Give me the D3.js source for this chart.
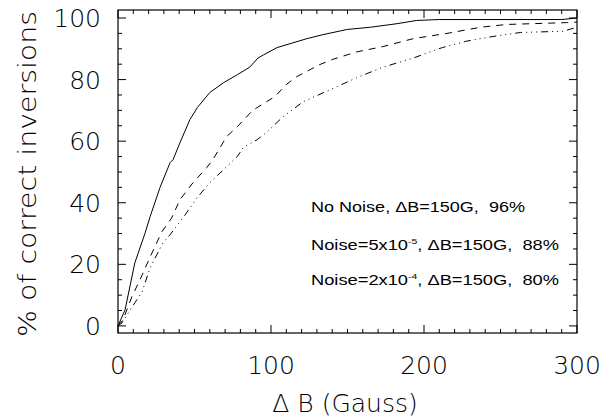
<!DOCTYPE html>
<html>
<head>
<meta charset="utf-8">
<script src="https://cdn.jsdelivr.net/npm/d3@7"></script>
<style>
  body { margin: 0; background: #fff; }
  svg { display: block; }
  .tick-label { font-family: "DejaVu Sans", sans-serif; font-weight: 200; fill: #000; }
  .legend { font-family: "Liberation Sans", Arial, sans-serif; font-size: 14px; fill: #000; white-space: pre; }
</style>
</head>
<body>
<svg width="604" height="419"></svg>
<script>
// cumulative % of correct inversions vs Delta B (Gauss)
var noNoiseX = [0, 4.6, 11, 17.6, 21, 27.5, 34, 36, 40.5, 47, 52, 60, 69, 78, 86, 91.5, 95, 104, 123.5, 134, 150, 165, 183, 195, 210, 290, 300];
var noNoiseY = [0, 5.2, 20.5, 30, 35.5, 45, 53, 54, 59.5, 67, 71, 75.8, 79, 81.6, 84, 87, 88, 90.4, 93.3, 94.6, 96.3, 97, 98.2, 99.2, 99.5, 99.5, 100];

var noise5X = [0, 3.3, 9, 14.4, 21, 28.7, 35, 40.5, 49, 58, 62, 71, 78, 88, 102.6, 110, 117, 132, 140, 156, 173, 183, 193, 215, 237, 254, 293, 300];
var noise5Y = [0, 2, 9.4, 15, 22.4, 30.6, 35, 41, 46.5, 51.4, 54, 61.5, 64.7, 70, 74.5, 78.4, 81, 84.9, 86.5, 89, 90.7, 92, 93.3, 95, 97, 97.9, 98.5, 98.7];

var noise2X = [0, 2.6, 11, 15.7, 21, 29.4, 34, 43.8, 51.6, 60, 78, 82, 91, 97, 108, 121, 138.6, 156, 173, 193, 212, 227, 245, 263, 291, 300];
var noise2Y = [0, 1, 7.5, 11, 18.9, 27, 29.6, 36, 41.6, 46.5, 55, 58, 60.5, 62.8, 68, 72.8, 76.7, 80.6, 84, 87, 90.4, 92.4, 94, 95.3, 95.7, 97];

var legendLabels = [
  [{t: "No Noise, \u0394B=150G,  96%"}],
  [{t: "Noise=5x10"}, {t: "-5", sup: true}, {t: ", \u0394B=150G,  88%"}],
  [{t: "Noise=2x10"}, {t: "-4", sup: true}, {t: ", \u0394B=150G,  80%"}]
];

var xMajor = [0, 100, 200, 300];
var yMajor = [0, 20, 40, 60, 80, 100];

var svg = d3.select("svg");
var pLeft = 118, pRight = 577, pTop = 10, pBottom = 333;

var x = d3.scaleLinear().domain([0, 300]).range([pLeft, pRight]);
var y = d3.scaleLinear().domain([-2.3, 102.6]).range([pBottom, pTop]);

// frame
svg.append("rect")
  .attr("x", pLeft).attr("y", pTop)
  .attr("width", pRight - pLeft).attr("height", pBottom - pTop)
  .attr("fill", "none").attr("stroke", "#000").attr("stroke-width", 1.2);

// ticks on all four sides
var tickG = svg.append("g").attr("stroke", "#000").attr("stroke-width", 1);
d3.range(0, 301, 10).forEach(function (v) {
  var len = (v % 100 === 0) ? 8 : 4;
  tickG.append("line").attr("x1", x(v)).attr("x2", x(v)).attr("y1", pBottom).attr("y2", pBottom - len);
  tickG.append("line").attr("x1", x(v)).attr("x2", x(v)).attr("y1", pTop).attr("y2", pTop + len);
});
d3.range(0, 101, 5).forEach(function (v) {
  var len = (v % 20 === 0) ? 8 : 4;
  tickG.append("line").attr("y1", y(v)).attr("y2", y(v)).attr("x1", pLeft).attr("x2", pLeft + len);
  tickG.append("line").attr("y1", y(v)).attr("y2", y(v)).attr("x1", pRight).attr("x2", pRight - len);
});

// tick labels
svg.selectAll(".xl").data(xMajor).join("text")
  .attr("class", "tick-label")
  .attr("x", function (d) { return x(d); })
  .attr("y", 374)
  .attr("text-anchor", "middle")
  .attr("font-size", 25)
  .text(function (d) { return d; });

svg.selectAll(".yl").data(yMajor).join("text")
  .attr("class", "tick-label")
  .attr("x", 101)
  .attr("y", function (d) { return y(d) + 9; })
  .attr("text-anchor", "end")
  .attr("font-size", 25)
  .text(function (d) { return d; });

// axis titles
svg.append("text")
  .attr("class", "tick-label")
  .attr("x", 345).attr("y", 412)
  .attr("text-anchor", "middle")
  .attr("font-size", 25)
  .text("\u0394 B (Gauss)");

svg.append("text")
  .attr("class", "tick-label")
  .attr("transform", "translate(36,174) rotate(-90)")
  .attr("text-anchor", "middle")
  .attr("font-size", 25)
  .attr("textLength", 326)
  .attr("lengthAdjust", "spacingAndGlyphs")
  .text("% of correct inversions");

// curves
var line = d3.line()
  .x(function (d) { return x(d[0]); })
  .y(function (d) { return y(d[1]); });

var series = [
  {xs: noNoiseX, ys: noNoiseY, dash: null},
  {xs: noise5X, ys: noise5Y, dash: "7,6"},
  {xs: noise2X, ys: noise2Y, dash: "7,4,1,4,1,4,1,4"}
];

series.forEach(function (s) {
  var pts = s.xs.map(function (v, i) { return [v, s.ys[i]]; });
  svg.append("path")
    .datum(pts)
    .attr("d", line)
    .attr("fill", "none")
    .attr("stroke", "#000")
    .attr("stroke-width", 1)
    .attr("stroke-dasharray", s.dash);
});

// legend text
var legendY = [212, 250, 285];
var legendW = [214, 248, 248];
legendLabels.forEach(function (parts, i) {
  var t = svg.append("text").attr("class", "legend")
    .attr("x", 311).attr("y", legendY[i])
    .attr("textLength", legendW[i])
    .attr("lengthAdjust", "spacingAndGlyphs");
  var raised = false;
  parts.forEach(function (p) {
    var ts = t.append("tspan").text(p.t);
    if (p.sup) { ts.attr("font-size", 8).attr("dy", -6); raised = true; }
    else if (raised) { ts.attr("dy", 6); raised = false; }
  });
});
</script>
</body>
</html>
